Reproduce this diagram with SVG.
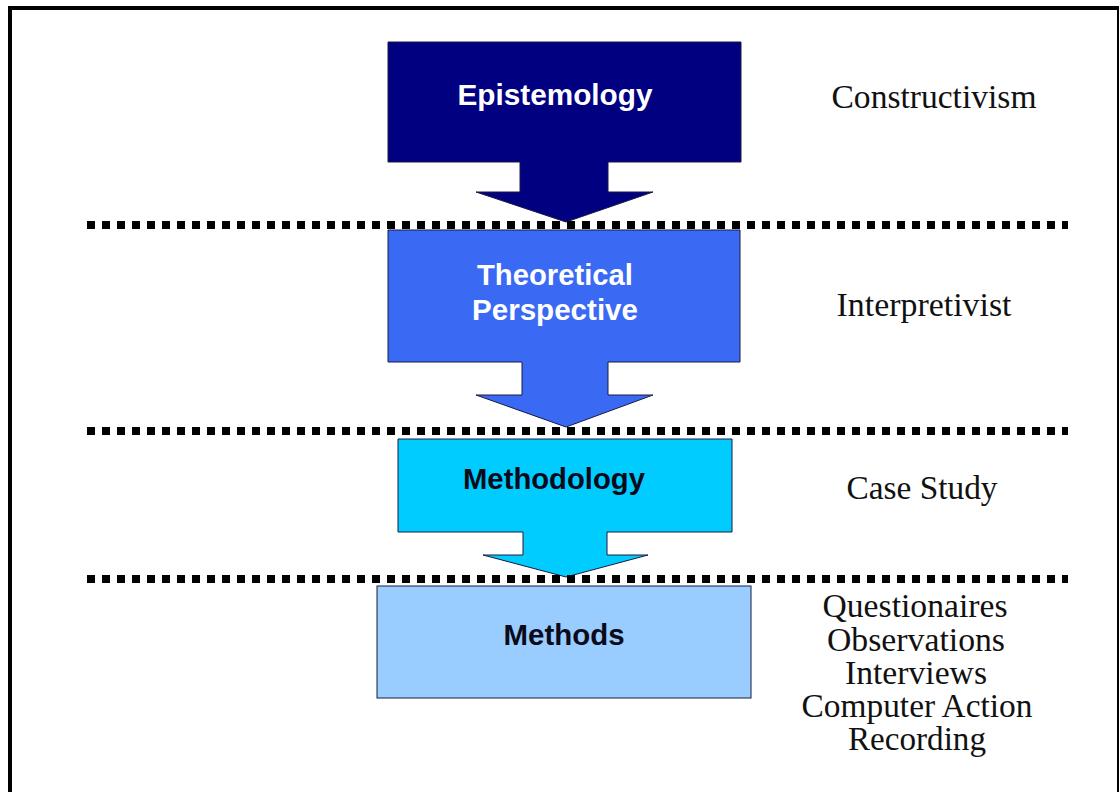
<svg xmlns="http://www.w3.org/2000/svg" width="1120" height="792" viewBox="0 0 1120 792">
  <style>
    .box { stroke: #1a1a40; stroke-width: 1; }
    .sans { font-family: "Liberation Sans", Arial, sans-serif; font-weight: bold; text-anchor: middle; }
    .serif { font-family: "Liberation Serif", "Times New Roman", serif; fill: #111; text-anchor: middle; font-size: 33px; }
    .dots { stroke: #000; stroke-width: 8; stroke-dasharray: 8 7; fill: none; }
  </style>
  <rect x="0" y="0" width="1120" height="792" fill="#ffffff"/>
  <!-- frame -->
  <g id="frame" stroke="#000" fill="none">
    <line x1="10" y1="8" x2="10" y2="792" stroke-width="4"/>
    <line x1="8" y1="8" x2="1119" y2="8" stroke-width="4"/>
    <line x1="1118" y1="8" x2="1118" y2="792" stroke-width="2"/>
  </g>

  <g id="epistemology">
    <path class="box" fill="#000080" d="M388,42 H741 V162 H608 V192 H653 L566,222 L476,192 H520 V162 H388 Z"/>
    <text class="sans" x="555" y="105" font-size="29" fill="#ffffff" textLength="195" lengthAdjust="spacingAndGlyphs">Epistemology</text>
  </g>

  <g id="theoretical-perspective">
    <path class="box" fill="#3A6AF4" d="M388,230 H740 V362 H608 V395 H653 L566,427 L476,395 H522 V362 H388 Z"/>
    <text class="sans" x="555" y="285" font-size="29" fill="#ffffff" textLength="156" lengthAdjust="spacingAndGlyphs">Theoretical</text>
    <text class="sans" x="555" y="320" font-size="29" fill="#ffffff" textLength="166" lengthAdjust="spacingAndGlyphs">Perspective</text>
  </g>

  <g id="methodology">
    <path class="box" fill="#00CCFF" d="M398,439 H732 V532 H607 V555 H648 L566,577 L483,555 H523 V532 H398 Z"/>
    <text class="sans" x="554" y="489" font-size="29" fill="#0a0a1a" textLength="182" lengthAdjust="spacingAndGlyphs">Methodology</text>
  </g>

  <g id="methods">
    <rect class="box" fill="#99CCFF" x="377" y="586" width="374" height="112"/>
    <text class="sans" x="564" y="645" font-size="29" fill="#0a0a1a" textLength="121" lengthAdjust="spacingAndGlyphs">Methods</text>
  </g>

  <!-- level separators -->
  <g id="connectors">
    <line class="dots" x1="87" y1="225" x2="1068" y2="225"/>
    <line class="dots" x1="87" y1="431" x2="1068" y2="431"/>
    <line class="dots" x1="87" y1="579" x2="1068" y2="579"/>
  </g>

  <g id="labels">
    <text class="serif" x="934" y="108" textLength="205" lengthAdjust="spacingAndGlyphs">Constructivism</text>
    <text class="serif" x="924" y="316" textLength="175" lengthAdjust="spacingAndGlyphs">Interpretivist</text>
    <text class="serif" x="922" y="499" textLength="151" lengthAdjust="spacingAndGlyphs">Case Study</text>
    <text class="serif" x="915" y="617" textLength="185" lengthAdjust="spacingAndGlyphs">Questionaires</text>
    <text class="serif" x="916" y="651" textLength="178" lengthAdjust="spacingAndGlyphs">Observations</text>
    <text class="serif" x="916" y="684" textLength="142" lengthAdjust="spacingAndGlyphs">Interviews</text>
    <text class="serif" x="917" y="717" textLength="231" lengthAdjust="spacingAndGlyphs">Computer Action</text>
    <text class="serif" x="917" y="750" textLength="138" lengthAdjust="spacingAndGlyphs">Recording</text>
  </g>
</svg>
